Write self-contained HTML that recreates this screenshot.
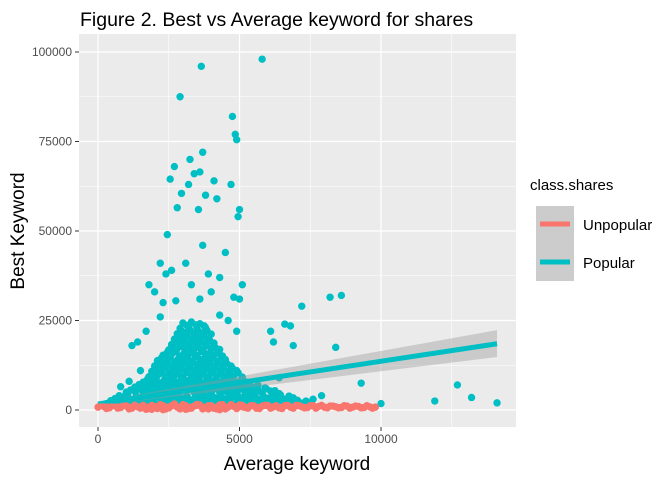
<!DOCTYPE html>
<html><head><meta charset="utf-8"><style>
html,body{margin:0;padding:0;background:#fff;}
svg{display:block;font-family:"Liberation Sans",sans-serif;}
</style></head><body>
<svg id="chart" width="672" height="480" viewBox="0 0 672 480">
<text x="80" y="26" font-size="19.5" fill="#000">Figure 2. Best vs Average keyword for shares</text>
<rect x="79" y="34" width="437" height="393" fill="#ebebeb"/>
<g id="grid"></g><g id="pts"></g><g id="fits"></g><g id="axes"></g>
<text x="297" y="470" font-size="19" text-anchor="middle">Average keyword</text>
<text transform="translate(24,231) rotate(-90)" font-size="19" text-anchor="middle">Best Keyword</text>
<g>
<text x="530" y="190" font-size="15">class.shares</text>
<rect x="536" y="206" width="38" height="75" fill="#cccccc"/>
<g>
<line x1="540" y1="224" x2="570" y2="224" stroke="#f8766d" stroke-width="5"/>
<circle cx="555" cy="224" r="2.5" fill="#f8766d"/>
<text x="583" y="230" font-size="15">Unpopular</text></g>
<g>
<line x1="540" y1="262" x2="570" y2="262" stroke="#00bfc4" stroke-width="5"/>
<circle cx="555" cy="262" r="2.5" fill="#00bfc4"/>
<text x="583" y="268" font-size="15">Popular</text></g>
</g>
</svg>
<script>
const xTicks=[0,5000,10000];
const yTicks=[0,25000,50000,75000,100000];
const popX=[3650,5800,2900,4750,4850,4900,3700,3250,2700,3400,3600,2550,3200,4100,4700,3800,2950,4200,5000,2800,3550,4950,2450,3700,4500,2200,2400,2600,3100,3900,4300,1800,2000,3300,4000,5100,2300,2750,3600,4800,5000,7200,8200,8600,1200,1400,1700,6100,6200,6600,6800,6900,8400,9300,12700,13200,11900,14100,10000,7900,7600,800,1100,1000,
300,600,900,1200,1500,1800,2100,2400,2700,3000,3300,3600,3900,4200,4500,4800,5100,5400,5700,6000,6300,6600,6900,7200,7500,
600,900,1200,1500,1800,2100,2400,2700,3000,3300,3600,3900,4200,4500,4800,5100,5400,5700,6000,6300,6600,6900,
1000,1300,1600,1900,2200,2500,2800,3100,3400,3700,4000,4300,4600,4900,5200,5500,5800,6100,6400,
1300,1600,1900,2200,2500,2800,3100,3400,3700,4000,4300,4600,4900,5200,5500,5900,
1600,1900,2200,2500,2800,3100,3400,3700,4000,4300,4600,4900,5200,
1800,2100,2400,2700,3000,3300,3600,3900,4200,4500,4800,5100,
1900,2200,2500,2800,3100,3400,3700,4000,4300,4600,4900,
2000,2300,2600,2900,3200,3500,3800,4100,4400,4700,
2100,2400,2700,3000,3300,3600,3900,4200,4500,
2300,2600,2900,3200,3500,3800,4100,4400,
2500,2800,3100,3400,3700,4000,4300,
2600,2900,3200,3500,3800,4100,
2700,3000,3300,3600,3900,
2800,3100,3400,3700,4000,
2900,3200,3500,3800,
3000,3300,3600,
4300,4600,4900,2200,1500,6400,
450,750,1050,1350,1650,1950,2250,2550,2850,3150,3450,3750,4050,4350,4650,4950,5250,5550,5850,6150,6450,6750,7050,7350,
750,1050,1350,1650,1950,2250,2550,2850,3150,3450,3750,4050,4350,4650,4950,5250,5550,5850,6150,6450,6750,
1150,1450,1750,2050,2350,2650,2950,3250,3550,3850,4150,4450,4750,5050,5350,5650,5950,6250,
1450,1750,2050,2350,2650,2950,3250,3550,3850,4150,4450,4750,5050,5350,5650,
1750,2050,2350,2650,2950,3250,3550,3850,4150,4450,4750,5050,
1950,2250,2550,2850,3150,3450,3750,4050,4350,4650,4950,
2050,2350,2650,2950,3250,3550,3850,4150,4450,4750,
2150,2450,2750,3050,3350,3650,3950,4250,4550,
2250,2550,2850,3150,3450,3750,4050,4350,
2450,2750,3050,3350,3650,3950,4250,
2650,2950,3250,3550,3850,4150,
2750,3050,3350,3650,3950,
2850,3150,3450,3750,
2950,3250,3550,3850,
3150,3450,3750];
const popY=[96000,98000,87500,82000,77000,75500,72000,70000,68000,66000,66500,64500,63000,64000,63000,60000,60500,59000,56000,56500,56000,54000,49000,46000,44000,41000,38000,39000,41000,38000,37000,35000,33000,35000,33000,35000,30000,30500,31000,31500,31000,29000,31500,32000,18000,19000,22000,22000,19000,24000,23500,18000,17500,7500,7000,3500,2500,2000,1800,4000,3000,6500,8000,5000,
1800,2200,1500,2000,1700,2300,1600,2100,1900,2400,1700,2000,2200,1800,2300,1600,2100,1900,2000,1700,2200,1800,2000,1900,1700,
3200,3600,2900,3400,3100,3700,3000,3500,3300,2800,3600,3200,3400,3000,3700,3100,3500,2900,3300,3600,3000,3400,
4800,5200,4500,5000,4700,5300,4600,5100,4900,5400,4600,5000,4800,5200,4500,5000,4700,5300,4600,
6400,6100,6600,6200,6500,6000,6700,6300,6100,6600,6200,6500,6300,6000,6400,6200,
7800,8100,7600,8000,7700,8200,7900,7600,8100,7800,8000,7700,7900,
9300,9600,9100,9500,9200,9700,9400,9100,9600,9300,9500,9200,
10800,11100,10600,11000,10700,11200,10900,10600,11100,10800,11000,
12300,12600,12100,12500,12200,12700,12400,12100,12600,12300,
13800,14100,13600,14000,13700,14200,13900,13600,14100,
15300,15600,15100,15500,15200,15700,15400,15100,
16800,17100,16600,17000,16700,17200,16900,
18300,18600,18100,18500,18200,18700,
19800,20100,19600,20000,19700,
21300,21600,21100,21500,21200,
22800,23100,22600,23000,
24300,24600,24100,
26500,25000,22000,26000,11000,9000,
2600,2400,2700,2500,2800,2400,2600,2700,2500,2800,2400,2600,2700,2500,2800,2400,2600,2700,2500,2800,2400,2600,2700,2500,
4000,4200,3900,4100,4300,3800,4000,4200,3900,4100,4300,3800,4000,4200,3900,4100,4300,3800,4000,4200,3900,
5600,5800,5500,5700,5900,5400,5600,5800,5500,5700,5900,5400,5600,5800,5500,5700,5900,5400,
7100,7300,7000,7200,7400,6900,7100,7300,7000,7200,7400,6900,7100,7300,7000,
8600,8800,8500,8700,8900,8400,8600,8800,8500,8700,8900,8400,
10100,10300,10000,10200,10400,9900,10100,10300,10000,10200,10400,
11600,11800,11500,11700,11900,11400,11600,11800,11500,11700,
13100,13300,13000,13200,13400,12900,13100,13300,13000,
14600,14800,14500,14700,14900,14400,14600,14800,
16100,16300,16000,16200,16400,15900,16100,
17600,17800,17500,17700,17900,17400,
19100,19300,19000,19200,19400,
20600,20800,20500,20700,
22100,22300,22000,22200,
23600,23800,23500];
const unpX=[0,200,400,600,800,1000,1200,1400,1600,1800,2000,2200,2400,2600,2800,3000,3200,3400,3600,3800,4000,4200,4400,4600,4800,5000,5200,5400,5600,5800,6000,6200,6400,6600,6800,7000,7200,7400,7600,7800,8000,8200,8400,8600,8800,9000,9200,9400,9600,9800,1900,2300,2700,3100,3500,3900,4300,4700,2500,3300,4100,5100,
100,300,500,700,900,1100,1300,1500,1700,1900,2100,2300,2500,2700,2900,3100,3300,3500,3700,3900,4100,4300,4500,4700,4900,5100,5300,5500,5700,5900,6100,6300,6500,6700,6900,7100,7300,7500,7700,7900,8100,8300,8500,8700,8900,9100,9300,9500,9700];
const unpY=[800,1000,600,1200,700,1100,500,900,1300,400,1000,1500,300,1200,800,1500,400,1100,1400,600,1200,300,1500,800,1000,1400,700,1200,500,1100,1300,900,600,1200,800,1300,900,700,1200,1000,800,1100,900,700,1100,800,1000,700,900,800,200,100,1700,200,1600,300,100,1500,600,700,500,900,
1300,400,1200,500,1400,300,1300,500,200,1300,400,1200,600,1400,300,1200,500,1300,300,1200,500,1400,300,1200,400,1300,500,1200,400,1300,500,1200,400,1300,500,1200,600,1200,500,1300,600,1100,600,1200,500,1100,600,1200,500];
const fitPopX=[0,14100];
const fitPopY=[1700,18500];
const fitPopLo=[1100,14800];
const fitPopHi=[2300,22300];
const fitUnpX=[0,9800];
const fitUnpY=[1100,950];

const NS="http://www.w3.org/2000/svg";
const xs=v=>98+v*(141.5/5000);
const ys=v=>410-v*(89.5/25000);
function mk(tag,attrs,parent){const e=document.createElementNS(NS,tag);for(const k in attrs)e.setAttribute(k,attrs[k]);parent.appendChild(e);return e;}
const grid=document.getElementById('grid'),axes=document.getElementById('axes');
[2500,7500,12500].forEach(t=>{const l=mk('line',{x1:xs(t),x2:xs(t),y1:34,y2:427,stroke:'#fff','stroke-width':0.6},grid);

});
for(let i=0;i<yTicks.length-1;i++){const l=mk('line',{x1:79,x2:516,y1:ys((yTicks[i]+yTicks[i+1])/2),y2:ys((yTicks[i]+yTicks[i+1])/2),stroke:'#fff','stroke-width':0.6},grid);

}
xTicks.forEach(t=>{const l=mk('line',{x1:xs(t),x2:xs(t),y1:34,y2:427,stroke:'#fff','stroke-width':1.2},grid);


const tk=mk('line',{x1:xs(t),x2:xs(t),y1:427,y2:431,stroke:'#333'},axes);


const tx=mk('text',{x:xs(t),y:443,'font-size':12,'text-anchor':'middle',fill:'#4d4d4d'},axes);tx.textContent=t;

});
yTicks.forEach(t=>{const l=mk('line',{x1:79,x2:516,y1:ys(t),y2:ys(t),stroke:'#fff','stroke-width':1.2},grid);


const tk=mk('line',{x1:75,x2:79,y1:ys(t),y2:ys(t),stroke:'#333'},axes);


const tx=mk('text',{x:72,y:ys(t)+4,'font-size':12,'text-anchor':'end',fill:'#4d4d4d'},axes);tx.textContent=t;

});
const pts=document.getElementById('pts');
popX.forEach((x,i)=>{const c=mk('circle',{cx:xs(x),cy:ys(popY[i]),r:3.7,fill:'#00bfc4'},pts);

});
unpX.forEach((x,i)=>{const c=mk('circle',{cx:xs(x),cy:ys(unpY[i]),r:3.7,fill:'#f8766d'},pts);

});
const fits=document.getElementById('fits');
const band=mk('polygon',{points:`${xs(fitPopX[0])},${ys(fitPopHi[0])} ${xs(fitPopX[1])},${ys(fitPopHi[1])} ${xs(fitPopX[1])},${ys(fitPopLo[1])} ${xs(fitPopX[0])},${ys(fitPopLo[0])}`,fill:'#999','fill-opacity':0.4},fits);


const lp=mk('line',{x1:xs(fitPopX[0]),y1:ys(fitPopY[0]),x2:xs(fitPopX[1]),y2:ys(fitPopY[1]),stroke:'#00bfc4','stroke-width':5},fits);


const lu=mk('line',{x1:xs(fitUnpX[0]),y1:ys(fitUnpY[0]),x2:xs(fitUnpX[1]),y2:ys(fitUnpY[1]),stroke:'#f8766d','stroke-width':5},fits);


</script>
</body></html>
